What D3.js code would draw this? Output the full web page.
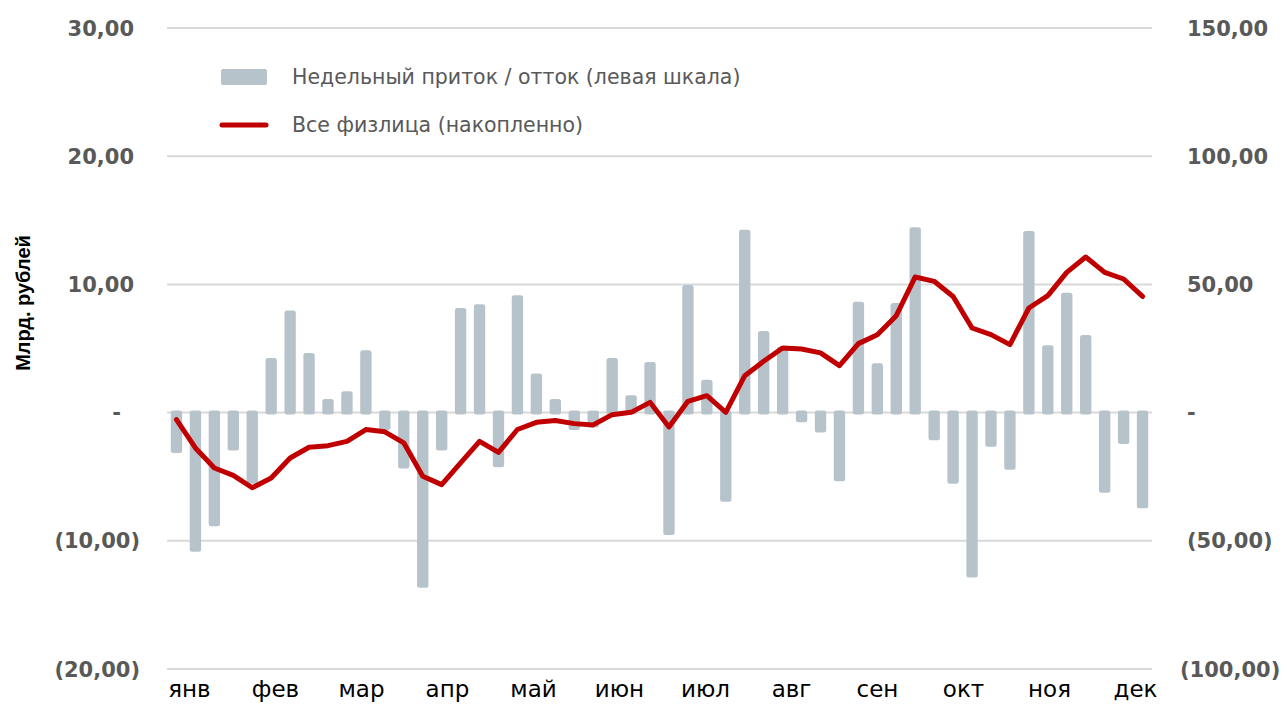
<!DOCTYPE html>
<html>
<head>
<meta charset="utf-8">
<script src="https://cdn.jsdelivr.net/npm/d3@7"></script>
<style>
    body { margin: 0; background: #fff; }
    .tick-label { font-family: "DejaVu Sans", Verdana, sans-serif; font-weight: bold; font-size: 21px; fill: #595959; }
    .month-label { font-family: "DejaVu Sans", Tahoma, sans-serif; font-size: 23px; fill: #000; }
    .legend-text { font-family: "DejaVu Sans", Tahoma, sans-serif; font-size: 20.5px; fill: #595959; }
    .axis-title { font-family: "Liberation Sans Narrow", "Arial Narrow", "Liberation Sans", sans-serif; font-weight: bold; font-size: 20px; fill: #000; }
</style>
</head>
<body>
<div id="chart"></div>
<script>
"use strict";

// weeks 1..52
var weeks = d3.range(1, 53);

var months = ["янв", "фев", "мар", "апр", "май", "июн", "июл", "авг", "сен", "окт", "ноя", "дек"];

// weekly inflow / outflow, left scale (bn rub)
var weeklyFlow = [
    -3.0, -10.7, -8.7, -2.8, -5.4, 4.1, 7.8, 4.5, 0.9, 1.5,
    4.7, -1.2, -4.2, -13.5, -2.8, 8.0, 8.3, -4.1, 9.0, 2.9,
    0.9, -1.2, -1.0, 4.1, 1.2, 3.8, -9.4, 9.8, 2.4, -6.8,
    14.1, 6.2, 5.0, -0.6, -1.4, -5.2, 8.5, 3.7, 8.4, 14.3,
    -2.0, -5.4, -12.7, -2.5, -4.3, 14.0, 5.1, 9.2, 5.9, -6.1,
    -2.3, -7.3
];

// cumulative, all individuals, right scale
var cumulative = [
    -2.7, -13.8, -21.6, -24.5, -29.3, -25.5, -17.7, -13.5, -12.9, -11.2,
    -6.6, -7.5, -11.8, -24.8, -28.1, -19.6, -11.2, -15.5, -6.6, -3.8,
    -3.1, -4.3, -4.8, -0.8, 0.1, 4.0, -5.6, 4.4, 6.6, 0.1,
    14.4, 20.0, 25.2, 24.8, 23.3, 18.3, 26.9, 30.4, 37.8, 52.9,
    51.2, 45.3, 33.0, 30.4, 26.5, 40.8, 45.6, 54.7, 60.7, 54.7,
    52.1, 45.3
];

var leftTicks = [-20, -10, 0, 10, 20, 30];
var rightTicks = [-100, -50, 0, 50, 100, 150];

var legendLabels = ["Недельный приток / отток (левая шкала)", "Все физлица (накопленно)"];

var width = 1287, height = 710;
var plot = { left: 167, right: 1152, top: 28, bottom: 669 };

var svg = d3.select("#chart")
    .append("svg")
    .attr("width", width)
    .attr("height", height);

var xScale = d3.scaleBand()
    .domain(weeks)
    .range([plot.left, plot.right])
    .paddingInner(0.4)
    .paddingOuter(0.2);

var yLeft = d3.scaleLinear()
    .domain([-20, 30])
    .range([plot.bottom, plot.top]);

var yRight = d3.scaleLinear()
    .domain([-100, 150])
    .range([plot.bottom, plot.top]);

var monthScale = d3.scalePoint()
    .domain(months)
    .range([xScale(1) + xScale.bandwidth() / 2 + 13, xScale(52) + xScale.bandwidth() / 2 - 7]);

var num = d3.formatLocale({ decimal: ",", thousands: " ", grouping: [3], currency: ["", ""] }).format(",.2f");

function fmt(v) {
    if (v == 0) return "-";
    if (v < 0) return "(" + num(-v) + ")";
    return num(v);
}

// gridlines
svg.append("g")
    .selectAll("line")
    .data(leftTicks)
    .enter()
    .append("line")
    .attr("x1", plot.left)
    .attr("x2", plot.right)
    .attr("y1", function(d){ return yLeft(d); })
    .attr("y2", function(d){ return yLeft(d); })
    .style("stroke", "#d9d9d9")
    .style("stroke-width", 2);

// left tick labels
svg.append("g")
    .selectAll("text")
    .data(leftTicks)
    .enter()
    .append("text")
    .attr("class", "tick-label")
    .attr("x", function(d){ return d < 0 ? 140 : (d == 0 ? 121 : 134); })
    .attr("y", function(d){ return yLeft(d); })
    .attr("dy", "0.36em")
    .attr("text-anchor", "end")
    .text(fmt);

// right tick labels
svg.append("g")
    .selectAll("text")
    .data(rightTicks)
    .enter()
    .append("text")
    .attr("class", "tick-label")
    .attr("x", function(d){ return d <= -100 ? 1180 : 1187; })
    .attr("y", function(d){ return yRight(d); })
    .attr("dy", "0.36em")
    .attr("text-anchor", "start")
    .text(fmt);

// month labels
svg.append("g")
    .selectAll("text")
    .data(months)
    .enter()
    .append("text")
    .attr("class", "month-label")
    .attr("x", function(d){ return monthScale(d); })
    .attr("y", 697)
    .attr("text-anchor", "middle")
    .text(function(d){ return d; });

// axis title
svg.append("text")
    .attr("class", "axis-title")
    .attr("transform", "translate(30, 303) rotate(-90)")
    .attr("text-anchor", "middle")
    .text("Млрд. рублей");

// bars
svg.append("g")
    .selectAll("rect")
    .data(weeklyFlow)
    .enter()
    .append("rect")
    .attr("x", function(d, i){ return xScale(weeks[i]); })
    .attr("y", function(d){ return yLeft(Math.max(0, d)) - 2; })
    .attr("width", xScale.bandwidth())
    .attr("height", function(d){ return Math.abs(yLeft(d) - yLeft(0)) + 4; })
    .attr("rx", 2.5)
    .style("fill", "#b7c3cb");

// cumulative line
var line = d3.line()
    .x(function(d, i){ return xScale(weeks[i]) + xScale.bandwidth() / 2; })
    .y(function(d){ return yRight(d); });

svg.append("path")
    .datum(cumulative)
    .attr("d", line)
    .style("fill", "none")
    .style("stroke", "#c00000")
    .style("stroke-width", 5)
    .style("stroke-linejoin", "round")
    .style("stroke-linecap", "round");

// legend
var legend = svg.append("g").attr("class", "legend");

legend.append("rect")
    .attr("x", 221)
    .attr("y", 69)
    .attr("width", 46)
    .attr("height", 16)
    .attr("rx", 2)
    .style("fill", "#b7c3cb");

legend.append("line")
    .attr("x1", 222)
    .attr("x2", 266)
    .attr("y1", 125)
    .attr("y2", 125)
    .style("stroke", "#c00000")
    .style("stroke-width", 5)
    .style("stroke-linecap", "round");

legend.selectAll("text")
    .data(legendLabels)
    .enter()
    .append("text")
    .attr("class", "legend-text")
    .attr("x", 292)
    .attr("y", function(d, i){ return 77 + i * 48; })
    .attr("dy", "0.36em")
    .text(function(d){ return d; });
</script>
</body>
</html>
